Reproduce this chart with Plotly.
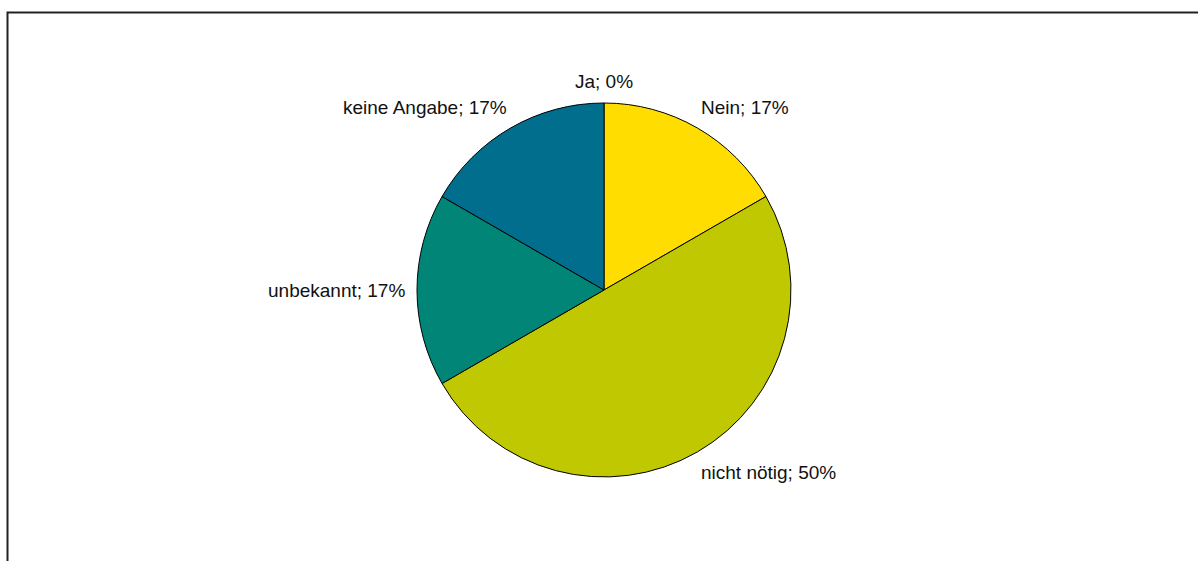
import math
import plotly.graph_objects as go

# Survey answers and their counts
categories = ["Ja", "Nein", "nicht nötig", "unbekannt", "keine Angabe"]
counts = [0, 1, 3, 1, 1]
colors = ["#E8A000", "#FFDD00", "#BFC800", "#008577", "#006E8C"]

W, H = 1198, 561
cx, cy, R = 604, 290, 187  # pie centre and radius in pixels

fig = go.Figure(
    go.Pie(
        labels=categories,
        values=counts,
        sort=False,
        direction="clockwise",
        rotation=0,
        textinfo="none",
        hoverinfo="label+percent",
        marker=dict(colors=colors, line=dict(color="#000000", width=1)),
        domain=dict(
            x=[(cx - R) / W, (cx + R) / W],
            y=[1 - (cy + R) / H, 1 - (cy - R) / H],
        ),
        showlegend=False,
    )
)

# Outside labels "Name; pct%" placed at each slice's mid-angle
total = sum(counts)
annotations = []
cum = 0
for name, v in zip(categories, counts):
    mid = (cum + v / 2) / total * 2 * math.pi
    cum += v
    s, c = math.sin(mid), math.cos(mid)
    px = cx + R * s
    py = cy - R * c
    if abs(s) < 0.05:
        xa = "center"
    elif s > 0:
        xa = "left"
    else:
        xa = "right"
    if abs(c) < 0.05:
        ya = "middle"
    elif c > 0:
        ya = "bottom"
    else:
        ya = "top"
    pct = round(v / total * 100)
    annotations.append(
        dict(
            x=px / W,
            y=1 - py / H,
            xref="paper",
            yref="paper",
            text=f"{name}; {pct}%",
            showarrow=False,
            xanchor=xa,
            yanchor=ya,
            xshift=10 * s ** 3,
            yshift=9 * c,
            font=dict(family="Arial, Liberation Sans, sans-serif", size=19, color="#111111"),
        )
    )

fig.update_layout(
    width=W,
    height=H,
    margin=dict(l=0, r=0, t=0, b=0),
    paper_bgcolor="#FFFFFF",
    plot_bgcolor="#FFFFFF",
    annotations=annotations,
    shapes=[
        dict(
            type="rect",
            xref="paper",
            yref="paper",
            x0=7.5 / W,
            x1=1.02,
            y0=-0.02,
            y1=1 - 12.5 / H,
            line=dict(color="#222222", width=2),
            fillcolor="rgba(0,0,0,0)",
        )
    ],
)

fig.write_html("out.html")
